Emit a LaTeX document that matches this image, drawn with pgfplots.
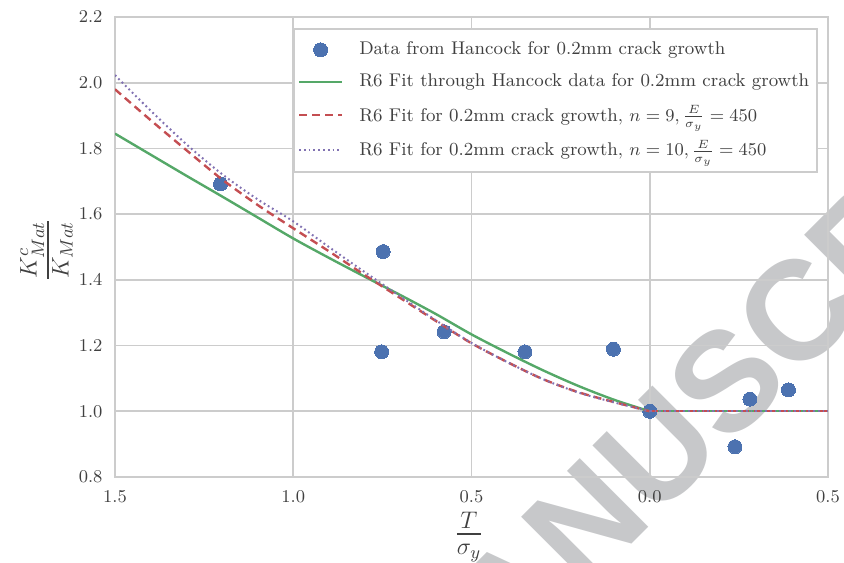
\documentclass[border=0pt]{standalone}
\usepackage{amsmath}
\usepackage{fontspec}
\usepackage{pgfplots}
\pgfplotsset{compat=1.18}

\newfontfamily\wmfont{Liberation Sans}

\definecolor{sbblue}{HTML}{4C72B0}
\definecolor{sbgreen}{HTML}{55A868}
\definecolor{sbred}{HTML}{C44E52}
\definecolor{sbpurple}{HTML}{8172B2}
\definecolor{gridgray}{HTML}{CCCCCC}
\definecolor{wmgray}{RGB}{199,200,202}

\pgfplotsset{
  lineleg/.style={legend image code/.code={\draw[##1] (0pt,0pt) -- (21.5pt,0pt);}},
  markleg/.style={legend image code/.code={\draw[##1] plot coordinates {(10.75pt,0pt)};}},
}
\tikzset{
  wmark/.style={overlay, rotate=45, inner sep=0pt, text=wmgray,
    font=\wmfont\bfseries\fontsize{70.5}{70.5}\selectfont},
}

% Hancock measurements, 0.2 mm crack growth
\pgfplotstableread{
x       y
-1.204  1.692
-0.748  1.486
-0.752  1.181
-0.577  1.242
-0.350  1.181
-0.102  1.189
 0.000  1.000
 0.239  0.892
 0.281  1.037
 0.389  1.065
}\hancock

% R6 fit through the Hancock data
\pgfplotstableread{
x      y
-1.5   1.845
-1.4   1.781
-1.3   1.717
-1.2   1.654
-1.1   1.590
-1.0   1.526
-0.9   1.467
-0.8   1.410
-0.7   1.354
-0.6   1.296
-0.5   1.234
-0.4   1.178
-0.3   1.125
-0.2   1.077
-0.1   1.035
 0.0   1.000
}\fitdata

% R6 fit, n = 9
\pgfplotstableread{
x      y
-1.5   1.980
-1.4   1.886
-1.3   1.795
-1.2   1.706
-1.1   1.628
-1.0   1.557
-0.9   1.487
-0.8   1.415
-0.7   1.345
-0.6   1.275
-0.5   1.207
-0.4   1.150
-0.3   1.098
-0.2   1.058
-0.1   1.028
 0.0   1.000
}\fitnine

% R6 fit, n = 10
\pgfplotstableread{
x      y
-1.5   2.023
-1.4   1.915
-1.3   1.813
-1.2   1.722
-1.1   1.645
-1.0   1.578
-0.9   1.500
-0.8   1.424
-0.7   1.350
-0.6   1.277
-0.5   1.208
-0.4   1.150
-0.3   1.098
-0.2   1.057
-0.1   1.027
 0.0   1.000
}\fitten

% plateau for positive constraint
\pgfplotstableread{
x     y
0.0   1.0
0.5   1.0
}\plateau

\begin{document}
\begin{tikzpicture}
\begin{axis}[
  set layers,
  width=356.5pt, height=230pt, scale only axis,
  xmin=-1.5, xmax=0.5, ymin=0.8, ymax=2.2,
  xtick={-1.5,-1,-0.5,0,0.5},
  xticklabels={1.5,1.0,0.5,0.0,0.5},
  ytick={0.8,1.0,1.2,1.4,1.6,1.8,2.0,2.2},
  yticklabels={0.8,1.0,1.2,1.4,1.6,1.8,2.0,2.2},
  grid=major,
  major grid style={gridgray, line width=0.8pt},
  axis line style={gridgray, line width=0.8pt},
  major tick length=0pt,
  tick label style={font=\fontsize{9}{11}\selectfont, text=black!75},
  xticklabel style={yshift=-3pt},
  yticklabel style={xshift=-2.75pt},
  clip mode=individual,
  xlabel={\(\genfrac{}{}{1.3pt}{1}{T}{\sigma_y}\)},
  ylabel={\(\genfrac{}{}{1.3pt}{1}{K^{c}_{Mat}}{K_{Mat}}\)},
  xlabel style={font=\fontsize{17.7}{20}\selectfont, text=black!75,
    at={(axis description cs:0.4965,-0.1304)}, anchor=center},
  ylabel style={font=\fontsize{17.7}{20}\selectfont, text=black!75,
    at={(axis description cs:-0.0961,0.4935)}, anchor=center},
  legend cell align=left,
  legend style={
    at={(axis description cs:0.986,0.976)}, anchor=north east,
    draw=gridgray, line width=0.8pt, fill=white,
    font=\fontsize{9.2}{11}\selectfont, text=black!75,
    inner xsep=2pt, inner ysep=4.5pt, row sep=4pt,
    nodes={inner sep=2pt},
    /tikz/every odd column/.append style={column sep=6pt},
  },
]
% watermark behind the grid and the data
\begin{pgfonlayer}{axis background}
\node[wmark, anchor=base west] at (axis cs:-0.1853,0.4471) {NUSCRIPT};
\node[wmark, anchor=base east] at (axis cs:-0.1853,0.4471) {ACCEPTED MA};
\end{pgfonlayer}

\addplot[only marks, mark=*, mark size=3.5pt,
  mark options={draw=sbblue, fill=sbblue, line width=0pt}, markleg]
  table[x=x, y=y] {\hancock};
\addlegendentry{Data from Hancock for 0.2mm crack growth}

\addplot[sbgreen, line width=1.2pt, smooth, lineleg]
  table[x=x, y=y] {\fitdata};
\addlegendentry{R6 Fit through Hancock data for 0.2mm crack growth}

\addplot[sbred, line width=1.2pt, smooth, dash pattern=on 4pt off 2.5pt, lineleg]
  table[x=x, y=y] {\fitnine};
\addlegendentry{R6 Fit for 0.2mm crack growth, \(n=9,\frac{E}{\sigma_y}=450\)}

\addplot[sbpurple, line width=1pt, smooth, dash pattern=on 0.9pt off 1.5pt, lineleg]
  table[x=x, y=y] {\fitten};
\addlegendentry{R6 Fit for 0.2mm crack growth, \(n=10,\frac{E}{\sigma_y}=450\)}

\addplot[sbgreen, line width=1.2pt, forget plot] table[x=x, y=y] {\plateau};
\addplot[sbred, line width=1.2pt, dash pattern=on 4pt off 2.5pt, forget plot]
  table[x=x, y=y] {\plateau};
\addplot[sbpurple, line width=1pt, dash pattern=on 0.9pt off 1.5pt, forget plot]
  table[x=x, y=y] {\plateau};
\end{axis}
\pgfresetboundingbox
\useasboundingbox (-57.5pt,-42.5pt) rectangle (364.5pt,238.5pt);
\end{tikzpicture}
\end{document}
